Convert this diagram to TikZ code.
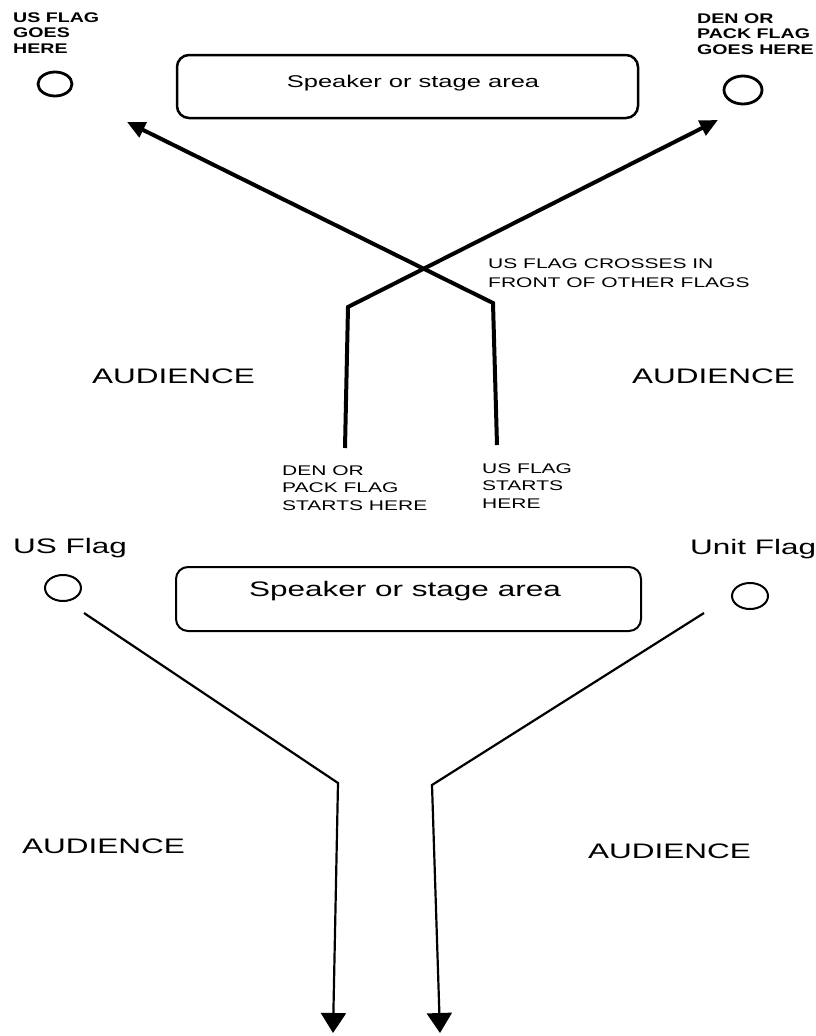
\documentclass[tikz,border=0pt]{standalone}
\usepackage{fontspec}
\setmainfont{Liberation Sans}[FakeStretch=1.5]
\newfontfamily\cornerfont{Liberation Sans}[FakeStretch=1.4]
\usetikzlibrary{arrows.meta,shapes.geometric}

\begin{document}
\begin{tikzpicture}[x=1pt,y=-1pt,
  corner/.style={anchor=base west,align=left,inner sep=0pt,font=\cornerfont\bfseries\fontsize{14}{15.5}\selectfont},
  note/.style={anchor=base west,align=left,inner sep=0pt,font=\fontsize{14}{17.5}\selectfont},
  big/.style={anchor=base west,inner sep=0pt,font=\fontsize{21}{25}\selectfont},
  stage/.style={draw,line width=2.5pt,rounded corners=12pt,inner sep=0pt},
  flagspot/.style={draw,ellipse,inner sep=0pt},
  march/.style={line width=4pt,-{Triangle[length=18pt,width=16pt]}},
  walk/.style={line width=2.2pt,-{Triangle[length=20pt,width=25pt]}}]
\useasboundingbox (0,0) rectangle (816,1036);

% top: flags cross
\node[corner] (usgoes) at (13,53) {US FLAG\\GOES\\HERE};
\node[corner] (dengoes) at (697,54) {DEN OR\\PACK FLAG\\GOES HERE};
\node[flagspot,line width=2.8pt,minimum width=34pt,minimum height=24pt] (usspot) at (55,84) {};
\node[flagspot,line width=2.8pt,minimum width=38pt,minimum height=28pt] (denspot) at (743,90) {};
\node[stage,minimum width=461pt,minimum height=63pt] (stagetop) at (407.5,86.5) {};
\node[big,anchor=base,font=\fontsize{17}{20}\selectfont] (stagetoptxt) at (413,87) {Speaker or stage area};

\coordinate (usstart) at (497,445);
\coordinate (usbend) at (493,303);
\coordinate (ustip) at (127,122);
\coordinate (denstart) at (345,448);
\coordinate (denbend) at (348,307);
\coordinate (dentip) at (718,120);
\draw[march] (denstart) -- (denbend) -- (dentip);
\draw[march] (usstart) -- (usbend) -- (ustip);

\node[note,font=\fontsize{14}{18.5}\selectfont] (crossnote) at (488,287) {US FLAG CROSSES IN\\FRONT OF OTHER FLAGS};
\node[big] (audtl) at (92,383) {AUDIENCE};
\node[big] (audtr) at (632,383) {AUDIENCE};
\node[note] (denstarts) at (282,510) {DEN OR\\PACK FLAG\\STARTS HERE};
\node[note] (usstarts) at (482,508) {US FLAG\\STARTS\\HERE};

% bottom: flags retire
\node[big] (uslbl) at (13,553) {US Flag};
\node[big] (unitlbl) at (690,554) {Unit Flag};
\node[flagspot,line width=2pt,minimum width=36pt,minimum height=26pt] (usspotb) at (63,588) {};
\node[flagspot,line width=2pt,minimum width=36pt,minimum height=26pt] (unitspot) at (750,596) {};
\node[stage,line width=2pt,minimum width=465pt,minimum height=64pt] (stagebot) at (408.5,599) {};
\node[big,anchor=base] (stagebottxt) at (405,596) {Speaker or stage area};

\coordinate (leftfrom) at (84,613);
\coordinate (leftbend) at (338,783);
\coordinate (lefttip) at (333,1033);
\coordinate (rightfrom) at (704,613);
\coordinate (rightbend) at (432,785);
\coordinate (righttip) at (440,1033);
\draw[walk] (leftfrom) -- (leftbend) -- (lefttip);
\draw[walk] (rightfrom) -- (rightbend) -- (righttip);

\node[big] (audbl) at (22,853) {AUDIENCE};
\node[big] (audbr) at (588,858) {AUDIENCE};
\end{tikzpicture}
\end{document}
